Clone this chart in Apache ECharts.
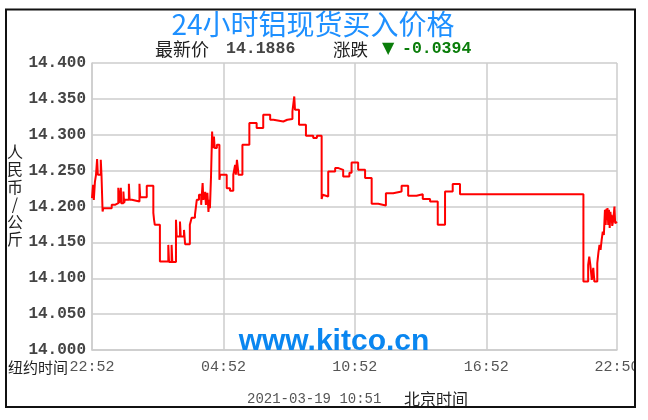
<!DOCTYPE html>
<html>
<head>
<meta charset="utf-8">
<script src="https://cdn.jsdelivr.net/npm/echarts@6/dist/echarts.min.js"></script>
<style>
html,body{margin:0;padding:0;background:#fff;}
#chart{width:648px;height:420px;}
</style>
</head>
<body>
<div id="chart"></div>
<script>
// minutes after 22:52 (New York time) and price (CNY/kg)
const offsetMin = [0,3,5,8,11,14,16,24,26,29,31,54,63,72,74,79,80,86,88,90,101,103,109,130,132,150,168,170,172,186,209,211,218,220,230,232,241,243,252,255,268,273,282,287,293,299,303,305,310,312,316,319,321,323,326,329,331,334,336,342,349,351,369,378,387,392,394,397,400,401,412,431,451,469,488,497,524,535,549,554,556,567,586,606,616,629,632,634,647,666,675,688,705,711,729,748,766,784,805,825,848,866,889,906,926,947,967,988,1008,1346,1359,1362,1365,1369,1373,1376,1384,1387,1390,1393,1396,1399,1402,1405,1407,1409,1411,1412,1414,1416,1418,1420,1422,1423,1425,1428,1431,1433,1438];
const price = [14.2117,14.2302,14.2093,14.2344,14.2442,14.2661,14.2442,14.2651,14.2442,14.1930,14.1977,14.2023,14.2047,14.2260,14.2047,14.2260,14.2047,14.2209,14.2047,14.2093,14.2316,14.2093,14.2069,14.2316,14.2130,14.2288,14.1911,14.1814,14.1744,14.1232,14.1465,14.1228,14.1465,14.1228,14.1814,14.1581,14.1790,14.1581,14.1674,14.1475,14.1744,14.1842,14.1883,14.2093,14.2163,14.2023,14.2326,14.2093,14.2204,14.2023,14.2190,14.1925,14.2093,14.1977,14.2418,14.3046,14.2814,14.2976,14.2814,14.2860,14.2372,14.2442,14.2256,14.2218,14.2442,14.2581,14.2442,14.2651,14.2511,14.2442,14.2860,14.3163,14.3093,14.3279,14.3209,14.3185,14.3209,14.3219,14.3325,14.3534,14.3348,14.3139,14.2986,14.2954,14.2986,14.2103,14.2163,14.2139,14.2488,14.2535,14.2511,14.2418,14.2469,14.2613,14.2511,14.2396,14.2037,14.2013,14.2186,14.2209,14.2288,14.2149,14.2172,14.2103,14.2069,14.1744,14.2209,14.2312,14.2172,14.0953,14.1186,14.1302,14.1186,14.0977,14.1144,14.0953,14.1210,14.1353,14.1465,14.1395,14.1535,14.1650,14.1604,14.1953,14.1744,14.1967,14.1814,14.1977,14.1744,14.1953,14.1702,14.1925,14.1786,14.1883,14.1730,14.1814,14.1999,14.1768,14.1786];
const xTickMinutes = [0,360,720,1080,1438];
const xTickLabels = ['22:52','04:52','10:52','16:52','22:50'];
const yMin = 14.0, yMax = 14.4, yStep = 0.05;
const titleText = '24小时铝现货买入价格';
const latestLabel = '最新价', latestValue = '14.1886';
const changeLabel = '涨跌', changeValue = '-0.0394';
const yName = '人民币/公斤';
const nyTimeLabel = '纽约时间';
const dateText = '2021-03-19 10:51', bjTimeLabel = '北京时间';
const watermark = 'www.kitco.cn';

const chart = echarts.init(document.getElementById('chart'), null, {renderer:'canvas'});
const data = offsetMin.map((m,i)=>[m, price[i]]);
const mono = '"Liberation Mono", "DejaVu Sans Mono", monospace';
const cjk = '"Noto Sans CJK SC", sans-serif';

chart.setOption({
  backgroundColor: '#ffffff',
  animation: false,
  grid: {left: 92, right: 31, top: 63, bottom: 70},
  xAxis: {
    type: 'value', min: 0, max: 1438, interval: 360,
    axisLine: {show: true, lineStyle: {color: '#cccccc', width: 1.5}},
    axisTick: {show: false},
    splitLine: {show: true, lineStyle: {color: '#cccccc', width: 1.5}},
    axisLabel: {
      margin: 10, color: '#555555', fontFamily: mono, fontSize: 15,
      formatter: v => { const i = xTickMinutes.indexOf(Math.round(v)); return i >= 0 ? xTickLabels[i] : ''; }
    }
  },
  yAxis: {
    type: 'value', min: yMin, max: yMax, interval: yStep,
    axisLine: {show: true, lineStyle: {color: '#cccccc', width: 1.5}},
    axisTick: {show: false},
    splitLine: {show: true, lineStyle: {color: '#cccccc', width: 1.5}},
    axisLabel: {
      margin: 6, color: '#444444', fontFamily: mono, fontSize: 16, fontWeight: 'bold',
      formatter: v => v.toFixed(3)
    }
  },
  series: [{
    type: 'line', data: data, step: 'end', showSymbol: false, symbol: 'none',
    lineStyle: {color: '#ff0000', width: 2}, z: 3
  }],
  graphic: [
    {type:'rect', z:100, shape:{x:636, y:0, width:12, height:420}, style:{fill:'#ffffff'}},
    {type:'rect', z:101, shape:{x:6, y:9.5, width:629, height:397.5}, style:{fill:'none', stroke:'#111111', lineWidth:2}},
    {type:'text', z:50, x:313, y:24, style:{text:titleText, fill:'#1e90ff', font:'28px '+cjk, align:'center', verticalAlign:'middle'}},
    {type:'text', z:50, x:155, y:49, style:{text:latestLabel, fill:'#222222', font:'18px '+cjk, verticalAlign:'middle'}},
    {type:'text', z:50, x:226, y:49, style:{text:latestValue, fill:'#444444', font:'bold 16.5px '+mono, verticalAlign:'middle'}},
    {type:'text', z:50, x:333, y:49, style:{text:changeLabel, fill:'#222222', font:'17.5px '+cjk, verticalAlign:'middle'}},
    {type:'text', z:50, x:382, y:49, style:{text:'▼', fill:'#0a7d0a', font:'16px "DejaVu Sans", sans-serif', verticalAlign:'middle'}},
    {type:'text', z:50, x:402, y:49, style:{text:changeValue, fill:'#0a7d0a', font:'bold 16.5px '+mono, verticalAlign:'middle'}},
    {type:'text', z:50, x:15, y:143, style:{text:yName.split('').join('\n'), fill:'#222222', font:'16px '+cjk, align:'center', lineHeight:17.5}},
    {type:'text', z:50, x:8, y:367, style:{text:nyTimeLabel, fill:'#222222', font:'15px '+cjk, verticalAlign:'middle'}},
    {type:'text', z:50, x:247, y:399, style:{text:dateText, fill:'#555555', font:'14px '+mono, verticalAlign:'middle'}},
    {type:'text', z:50, x:404, y:399, style:{text:bjTimeLabel, fill:'#222222', font:'16px '+cjk, verticalAlign:'middle'}},
    {type:'text', z:50, x:334, y:342, style:{text:watermark, fill:'#0a86f0', font:'bold 30px "Liberation Sans", Arial, sans-serif', align:'center', verticalAlign:'middle'}}
  ]
});
</script>
</body>
</html>
